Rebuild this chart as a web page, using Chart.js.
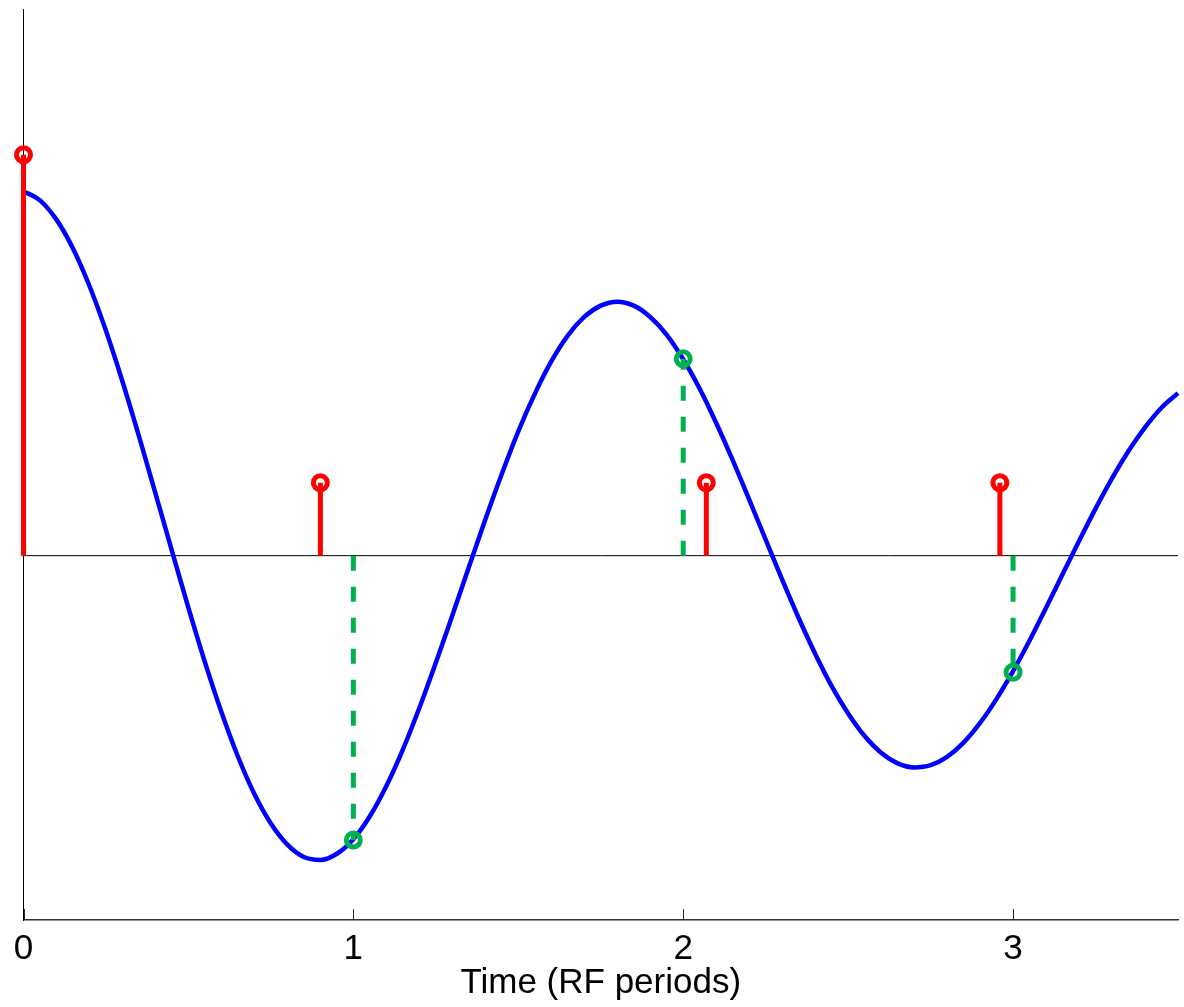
<!DOCTYPE html>
<html>
<head>
<meta charset="utf-8">
<script src="https://cdn.jsdelivr.net/npm/chart.js@4/dist/chart.umd.min.js"></script>
<style>
  html, body { margin: 0; padding: 0; background: #fff; }
  #wrap { width: 1184px; height: 1007px; position: relative; }
  canvas { display: block; }
</style>
</head>
<body>
<div id="wrap"><canvas id="c" width="1184" height="1007"></canvas></div>
<script>
// ---- data ----
const curveT = [0,0.05,0.1,0.15,0.2,0.25,0.3,0.35,0.4,0.45,0.5,0.55,0.6,0.65,0.7,0.75,0.8,0.85,0.9,0.95,
                1.0,1.05,1.1,1.15,1.2,1.25,1.3,1.35,1.4,1.45,1.5,1.55,1.6,1.65,1.7,1.75,1.8,1.85,1.9,1.95,
                2.0,2.05,2.1,2.15,2.2,2.25,2.3,2.35,2.4,2.45,2.5,2.55,2.6,2.65,2.7,2.75,2.8,2.85,2.9,2.95,
                3.0,3.05,3.1,3.15,3.2,3.25,3.3,3.35,3.4,3.45,3.5];
const curveV = [1.000,0.975,0.922,0.843,0.740,0.617,0.478,0.328,0.171,0.013,-0.143,-0.292,-0.429,-0.551,-0.654,-0.735,-0.793,-0.827,-0.835,-0.818,
                -0.778,-0.715,-0.632,-0.532,-0.418,-0.294,-0.164,-0.032,0.099,0.224,0.341,0.444,0.533,0.604,0.655,0.686,0.697,0.686,0.655,0.606,
                0.539,0.458,0.364,0.262,0.154,0.044,-0.066,-0.171,-0.269,-0.358,-0.433,-0.495,-0.541,-0.570,-0.581,-0.575,-0.552,-0.513,-0.459,-0.393,
                -0.317,-0.233,-0.143,-0.051,0.040,0.129,0.212,0.287,0.352,0.406,0.446];
const redT = [0, 0.90, 2.07, 2.96];
const redV = [1.1, 0.2, 0.2, 0.2];
const greenT = [1, 2, 3];
const greenV = [-0.78, 0.54, -0.32];
const xTickVals = [0, 1, 2, 3];
const xTitle = 'Time (RF periods)';
const xMin = 0, xMax = 3.5, yMin = -1, yMax = 1.5;

// ---- build datasets ----
const FONT = "'Liberation Sans', Arial, Helvetica, sans-serif";
const datasets = [];

greenT.forEach((t, i) => {
  datasets.push({
    data: [{x: t, y: 0}, {x: t, y: greenV[i]}],
    borderColor: '#00B050',
    borderWidth: 5,
    borderDash: [15, 16],
    pointRadius: [0, 7],
    pointBorderWidth: 5,
    pointBorderColor: '#00B050',
    pointBackgroundColor: 'rgba(0,0,0,0)',
    clip: false,
    order: 1
  });
});

redT.forEach((t, i) => {
  datasets.push({
    data: [{x: t, y: 0}, {x: t, y: redV[i]}],
    borderColor: '#FF0000',
    borderWidth: 5,
    pointRadius: [0, 7],
    pointBorderWidth: 5,
    pointBorderColor: '#FF0000',
    pointBackgroundColor: 'rgba(0,0,0,0)',
    clip: false,
    order: 2
  });
});

datasets.push({
  data: curveT.map((t, i) => ({x: t, y: curveV[i]})),
  borderColor: '#0000FF',
  borderWidth: 4.5,
  pointRadius: 0,
  cubicInterpolationMode: 'monotone',
  clip: 4,
  order: 3
});

datasets.push({
  data: [{x: xMin, y: 0}, {x: xMax, y: 0}],
  borderColor: '#000000',
  borderWidth: 1,
  pointRadius: 0,
  order: 4
});

const innerTicks = {
  id: 'innerTicks',
  afterDraw(chart) {
    const xs = chart.scales.x;
    const ctx = chart.ctx;
    const b = chart.chartArea.bottom;
    ctx.save();
    ctx.strokeStyle = '#262626';
    ctx.lineWidth = 1;
    xTickVals.forEach(v => {
      const px = Math.round(xs.getPixelForValue(v)) + 0.5;
      ctx.beginPath();
      ctx.moveTo(px, b - 11);
      ctx.lineTo(px, b);
      ctx.stroke();
    });
    ctx.restore();
  }
};

new Chart(document.getElementById('c'), {
  type: 'line',
  data: { datasets },
  plugins: [innerTicks],
  options: {
    responsive: false,
    animation: false,
    events: [],
    layout: { autoPadding: false, padding: { left: 23.5, right: 6, top: 9, bottom: 0 } },
    plugins: { legend: { display: false }, tooltip: { enabled: false } },
    scales: {
      x: {
        type: 'linear',
        min: xMin, max: xMax,
        grid: { display: false, drawTicks: false },
        border: { display: true, color: '#333333', width: 1.5 },
        afterBuildTicks: (s) => { s.ticks = xTickVals.map(v => ({value: v})); },
        ticks: {
          color: '#000',
          padding: 12,
          maxRotation: 0,
          autoSkip: false,
          font: { family: FONT, size: 35, lineHeight: 1 },
          callback: (v) => String(v)
        },
        title: {
          display: true,
          text: xTitle,
          color: '#000',
          font: { family: FONT, size: 35, lineHeight: 0.24 },
          padding: { top: 0, bottom: 19.5 }
        }
      },
      y: {
        type: 'linear',
        min: yMin, max: yMax,
        grid: { display: false, drawTicks: false },
        border: { display: true, color: '#000', width: 1 },
        ticks: { display: false }
      }
    }
  }
});
</script>
</body>
</html>
